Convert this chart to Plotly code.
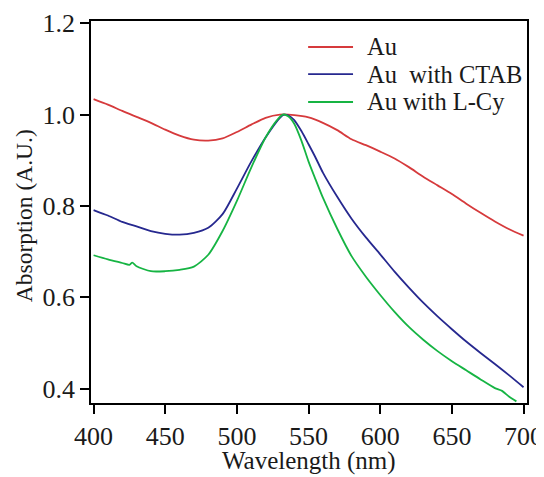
import plotly.graph_objects as go

# Wavelength grids (nm) and absorption values
wl_au = [400, 410, 420, 430, 440, 450, 460, 470, 480, 490, 500, 510, 520, 530, 540,
         550, 560, 570, 580, 590, 600, 610, 620, 630, 640, 650, 660, 670, 680, 690, 700]
abs_au = [1.034, 1.022, 1.008, 0.995, 0.982, 0.967, 0.954, 0.945, 0.943, 0.948, 0.962,
          0.978, 0.993, 1.000, 0.999, 0.994, 0.982, 0.966, 0.946, 0.933, 0.919, 0.904,
          0.885, 0.864, 0.845, 0.826, 0.805, 0.785, 0.766, 0.749, 0.735]

wl_ctab = [400, 410, 420, 430, 440, 450, 460, 470, 480, 490, 500, 510, 520, 530, 533,
           536, 540, 545, 550, 555, 560, 570, 580, 590, 600, 610, 620, 630, 640, 650,
           660, 670, 680, 690, 700]
abs_ctab = [0.791, 0.779, 0.765, 0.755, 0.745, 0.739, 0.737, 0.741, 0.752, 0.782, 0.838,
            0.897, 0.950, 0.993, 1.000, 0.998, 0.988, 0.964, 0.935, 0.905, 0.873, 0.820,
            0.772, 0.731, 0.694, 0.656, 0.621, 0.588, 0.558, 0.530, 0.503, 0.478, 0.454,
            0.429, 0.403]

wl_lcy = [400, 410, 420, 425, 427, 430, 440, 450, 460, 470, 480, 490, 500, 510, 520,
          528, 532, 536, 540, 545, 550, 555, 560, 570, 580, 590, 600, 610, 620, 630,
          640, 650, 660, 670, 680, 685, 690, 695]
abs_lcy = [0.692, 0.683, 0.675, 0.671, 0.676, 0.668, 0.657, 0.657, 0.660, 0.667, 0.693,
           0.745, 0.811, 0.884, 0.950, 0.988, 1.000, 0.996, 0.980, 0.943, 0.897, 0.857,
           0.818, 0.750, 0.690, 0.645, 0.605, 0.568, 0.535, 0.507, 0.482, 0.460, 0.440,
           0.420, 0.401, 0.395, 0.382, 0.372]

series_names = ["Au", "Au  with CTAB", "Au with L-Cy"]
series_colors = ["#d63a3c", "#26288f", "#16b443"]

x_ticks = [400, 450, 500, 550, 600, 650, 700]
y_ticks = [0.4, 0.6, 0.8, 1.0, 1.2]
y_tick_text = ["0.4", "0.6", "0.8", "1.0", "1.2"]

FONT = "Liberation Serif"
TXT = "#1a1a1a"

fig = go.Figure()
for wl, ab, name, col in zip([wl_au, wl_ctab, wl_lcy], [abs_au, abs_ctab, abs_lcy],
                             series_names, series_colors):
    fig.add_trace(go.Scatter(x=wl, y=ab, mode="lines", name=name,
                             line=dict(color=col, width=1.8, shape="spline", smoothing=0.7),
                             showlegend=False))

# manual legend (line sample + label)
leg_y = [0.932, 0.861, 0.788]
for name, col, yy in zip(series_names, series_colors, leg_y):
    fig.add_shape(type="line", xref="paper", yref="paper", x0=0.498, x1=0.601, y0=yy, y1=yy,
                  line=dict(color=col, width=1.8))
    fig.add_annotation(xref="paper", yref="paper", x=0.629, y=yy,
                       text=name.replace("  ", "&nbsp; "),
                       showarrow=False, xanchor="left", yanchor="middle",
                       font=dict(family=FONT, size=24.5, color=TXT))

# axis titles as text annotations
fig.add_annotation(xref="paper", yref="paper", x=0.5, y=-0.153, text="Wavelength (nm)",
                   showarrow=False, xanchor="center", yanchor="middle", borderpad=0,
                   font=dict(family=FONT, size=25, color=TXT))
fig.add_annotation(xref="paper", yref="paper", x=-0.155, y=0.49, text="Absorption (A.U.)",
                   showarrow=False, xanchor="center", yanchor="middle", textangle=-90,
                   font=dict(family=FONT, size=23.5, color=TXT))

axis_common = dict(showline=True, mirror=True, linecolor="black", linewidth=1.5,
                   ticks="outside", ticklen=9, tickwidth=1.5, tickcolor="black",
                   showgrid=False, zeroline=False, automargin=False,
                   tickfont=dict(family=FONT, size=26, color=TXT))

# page body has an 8px margin, so the figure is sized/margined to compensate
fig.update_layout(
    width=536, height=469,
    margin=dict(l=83, r=17, t=13, b=74),
    paper_bgcolor="white", plot_bgcolor="white",
    xaxis=dict(range=[398.2, 702.4], tickvals=x_ticks, **axis_common),
    yaxis=dict(range=[0.3684, 1.205], tickvals=y_ticks, ticktext=y_tick_text,
               **axis_common),
)

fig.write_html("out.html")
